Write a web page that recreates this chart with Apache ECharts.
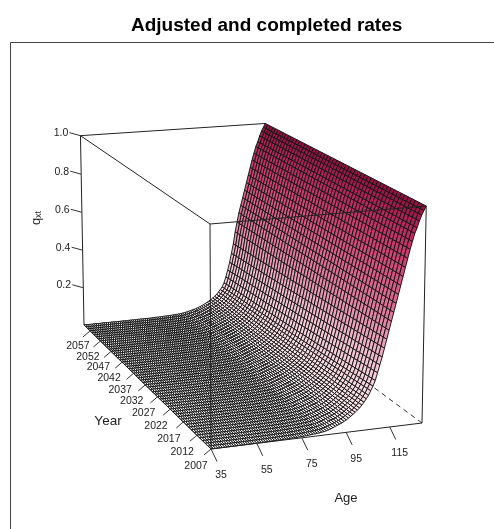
<!DOCTYPE html>
<html><head><meta charset="utf-8">
<style>html,body{margin:0;padding:0;background:#fff}#c{width:494px;height:529px}</style>
<script src="https://cdn.jsdelivr.net/npm/echarts@6/dist/echarts.min.js"></script>
</head><body><div id="c"></div>
<script>
// Values. The full age x year surface is too large to read cell by cell, so it
// is built from three read-off lists: log q(age,year) = log q2007[age] - ageImprovement[age]*yearTrend[year].
const ages = [35,36,37,38,39,40,41,42,43,44,45,46,47,48,49,50,51,52,53,54,55,56,57,58,59,60,61,62,63,64,65,66,67,68,69,70,71,72,73,74,75,76,77,78,79,80,81,82,83,84,85,86,87,88,89,90,91,92,93,94,95,96,97,98,99,100,101,102,103,104,105,106,107,108,109,110,111,112,113,114,115,116,117,118,119,120,121,122,123,124,125,126,127,128,129,130];
const years = [2007,2008,2009,2010,2011,2012,2013,2014,2015,2016,2017,2018,2019,2020,2021,2022,2023,2024,2025,2026,2027,2028,2029,2030,2031,2032,2033,2034,2035,2036,2037,2038,2039,2040,2041,2042,2043,2044,2045,2046,2047,2048,2049,2050,2051,2052,2053,2054,2055,2056,2057,2058,2059,2060];
const q2007 = [.0003,.0003,.0003,.0004,.0004,.0004,.0005,.0005,.0005,.0006,.0006,.0007,.0007,.0008,.0008,.0009,.0009,.001,.0011,.0012,.0013,.0014,.0015,.0016,.0018,.002,.0021,.0023,.0025,.0027,.0029,.0031,.0033,.0035,.0037,.004,.0043,.0047,.005,.0055,.006,.0067,.0074,.0082,.0091,.01,.011,.012,.013,.0145,.016,.019,.022,.025,.029,.034,.038,.042,.046,.052,.058,.065,.072,.08,.088,.097,.106,.118,.13,.145,.16,.18,.2,.225,.26,.295,.33,.37,.41,.45,.49,.53,.57,.61,.65,.69,.73,.77,.81,.845,.88,.905,.935,.96,.98,1];
const ageImprovement = [.5,.5,.5,.5,.5,.5,.5,.5,.5,.5,.5,.5,.5,.5,.5,.5,.5,.5,.5,.5,.5,.5,.5,.5,.5,.5,.5,.5,.5,.5,.5,.5,.5,.5,.5,.5,.5,.5,.5,.5,.5,.5,.5,.5,.5,.5,.5,.5,.5,.5,.5,.5,.5,.5,.49,.48,.48,.47,.47,.46,.45,.45,.44,.43,.42,.41,.41,.41,.41,.41,.4,.4,.4,.37,.33,.28,.22,.17,.12,.05,.02,0,0,0,0,0,0,0,0,0,0,0,0,0,0,0];
const yearTrend = [0,.02,.04,.06,.08,.1,.12,.14,.16,.175,.195,.215,.235,.255,.27,.29,.31,.33,.345,.365,.385,.4,.42,.44,.455,.475,.495,.51,.53,.55,.565,.585,.6,.62,.635,.655,.67,.69,.705,.725,.74,.76,.775,.795,.81,.83,.845,.865,.88,.9,.92,.94,.97,1];
const ageTicks = [35,55,75,95,115];
const yearTicks = [2007,2012,2017,2022,2027,2032,2037,2042,2047,2052,2057];
const qTicks = [0.2,0.4,0.6,0.8,1.0];
const qMin = 0, qMax = 1;

const surface = ages.map((a,i)=>years.map((y,j)=>Math.exp(Math.log(q2007[i])-ageImprovement[i]*yearTrend[j])));

// Perspective box fitted to the picture's corners
const O=[211,449], B=[422,423], C=[84,325], F=[210,224], wu=1.039, wv=1.2, wz=.975;
function proj(age,year,q){
  const u=(age-ages[0])/(ages[ages.length-1]-ages[0]), v=(year-years[0])/(years[years.length-1]-years[0]), w=(q-qMin)/(qMax-qMin);
  const X=O[0]+u*(wu*B[0]-O[0])+v*(wv*C[0]-O[0])+w*(wz*F[0]-O[0]);
  const Y=O[1]+u*(wu*B[1]-O[1])+v*(wv*C[1]-O[1])+w*(wz*F[1]-O[1]);
  const D=1+u*(wu-1)+v*(wv-1)+w*(wz-1);
  return [X/D,Y/D];
}
const stops=[[0,[255,255,255]],[.1,[248,226,232]],[.3,[240,190,206]],[.5,[224,122,156]],[.75,[206,66,114]],[.9,[182,38,88]],[1,[146,14,60]]];
function ramp(z){
  for(let i=1;i<stops.length;i++){ if(z<=stops[i][0]){
    const a=stops[i-1],b=stops[i],t=(z-a[0])/(b[0]-a[0]);
    return 'rgb('+a[1].map((c,k)=>Math.round(c+t*(b[1][k]-c))).join(',')+')';
  }}
  return 'rgb(146,14,60)';
}
const aMin=ages[0],aMax=ages[ages.length-1],yMin=years[0],yMax=years[years.length-1];
const hiddenEdges=[[aMax,yMin,qMin,aMax,yMax,qMin],[aMin,yMax,qMin,aMax,yMax,qMin],[aMax,yMax,qMin,aMax,yMax,qMax]];
const frontEdges=[[aMin,yMin,qMin,aMax,yMin,qMin],[aMin,yMin,qMin,aMin,yMax,qMin],[aMin,yMin,qMin,aMin,yMin,qMax],
 [aMax,yMin,qMin,aMax,yMin,qMax],[aMin,yMax,qMin,aMin,yMax,qMax],[aMin,yMin,qMax,aMax,yMin,qMax],[aMin,yMin,qMax,aMin,yMax,qMax],[aMin,yMax,qMax,aMax,yMax,qMax]];

const cells=[];
for(let i=ages.length-2;i>=0;i--) for(let j=years.length-2;j>=0;j--) cells.push([i,j]);
const FONT='Liberation Sans, Arial, sans-serif', TXT='#222';

function edgeRender(color,dash,width){ return function(p,api){
  const e=(p.seriesName==='hidden'?hiddenEdges:frontEdges)[p.dataIndex];
  const a=api.coord(proj(e[0],e[1],e[2])), b=api.coord(proj(e[3],e[4],e[5]));
  return {type:'line',shape:{x1:a[0],y1:a[1],x2:b[0],y2:b[1]},style:{stroke:color,lineWidth:width,lineDash:dash}};
};}
function tick(api,e,dx,dy,lx,ly,label){
  const a=api.coord(e);
  return {type:'group',children:[
   {type:'line',shape:{x1:a[0],y1:a[1],x2:a[0]+dx,y2:a[1]+dy},style:{stroke:'#333',lineWidth:1}},
   {type:'text',style:{text:label,x:a[0]+lx,y:a[1]+ly,font:'10.5px '+FONT,fill:TXT,align:'center',verticalAlign:'middle'}}]};
}
const titles=[
 {text:'Age',x:346,y:498,size:13},
 {text:'Year',x:108,y:421,size:13.5}
];
const chart=echarts.init(document.getElementById('c'),null,{renderer:'canvas'});
chart.setOption({
 animation:false,
 title:{text:'Adjusted and completed rates',left:126,top:11,textStyle:{fontFamily:FONT,fontWeight:'bold',fontSize:19,color:'#000'}},
 grid:{left:0,right:0,top:0,bottom:0},
 xAxis:{type:'value',min:0,max:494,show:false},
 yAxis:{type:'value',min:0,max:529,inverse:true,show:false},
 graphic:[{type:'polyline',shape:{points:[[10.5,529],[10.5,42.5],[494,42.5]]},style:{stroke:'#444',fill:null,lineWidth:1}}],
 series:[
  {type:'custom',name:'hidden',coordinateSystem:'cartesian2d',silent:true,z:1,data:hiddenEdges.map((e,i)=>[i]),renderItem:edgeRender('#333',[5,4],1)},
  {type:'custom',name:'surface',coordinateSystem:'cartesian2d',silent:true,z:2,progressive:0,data:cells,
   renderItem:function(p,api){
    const i=api.value(0),j=api.value(1);
    const z=(surface[i][j]+surface[i+1][j]+surface[i][j+1]+surface[i+1][j+1])/4;
    const pts=[[i,j],[i+1,j],[i+1,j+1],[i,j+1]].map(c=>api.coord(proj(ages[c[0]],years[c[1]],surface[c[0]][c[1]])));
    return {type:'polygon',shape:{points:pts},style:{fill:ramp(z),stroke:'#141414',lineWidth:0.96}};
   }},
  {type:'custom',name:'front',coordinateSystem:'cartesian2d',silent:true,z:3,data:frontEdges.map((e,i)=>[i]),renderItem:edgeRender('#222',null,1)},
  {type:'custom',name:'ageTicks',coordinateSystem:'cartesian2d',silent:true,z:4,data:ageTicks.map(a=>[a]),
   renderItem:(p,api)=>tick(api,proj(api.value(0),yMin,qMin),6,12.5,10,26.5,String(api.value(0)))},
  {type:'custom',name:'yearTicks',coordinateSystem:'cartesian2d',silent:true,z:4,data:yearTicks.map(y=>[y]),
   renderItem:(p,api)=>{const f=(api.value(0)-yMin)/(yMax-yMin);
    return tick(api,proj(aMin,api.value(0),qMin),-7,6,-15+3*f,17.5-2*f,String(api.value(0)));}},
  {type:'custom',name:'qTicks',coordinateSystem:'cartesian2d',silent:true,z:4,data:qTicks.map(q=>[q]),
   renderItem:(p,api)=>tick(api,proj(aMin,yMax,api.value(0)),-11,-3,-19.5,-2.5,api.value(0).toFixed(1))},
  {type:'custom',name:'titles',coordinateSystem:'cartesian2d',silent:true,z:4,data:titles.map((t,i)=>[i]),
   renderItem:(p,api)=>{const t=titles[p.dataIndex],a=api.coord([t.x,t.y]);
    return {type:'text',style:{text:t.text,x:a[0],y:a[1],font:t.size+'px '+FONT,fill:TXT,align:'center',verticalAlign:'middle'}};}},
  {type:'custom',name:'zTitle',coordinateSystem:'cartesian2d',silent:true,z:4,data:[[0]],
   renderItem:(p,api)=>{const a=api.coord([36,218]);
    return {type:'text',x:a[0],y:a[1],rotation:Math.PI/2,style:{text:'{a|q}{b|xt}',x:0,y:0,align:'center',verticalAlign:'middle',
     rich:{a:{font:'13px '+FONT,fill:TXT},b:{font:'9px '+FONT,fill:TXT,verticalAlign:'bottom',padding:[6,0,0,0]}}}};}}
 ]
});
</script></body></html>
